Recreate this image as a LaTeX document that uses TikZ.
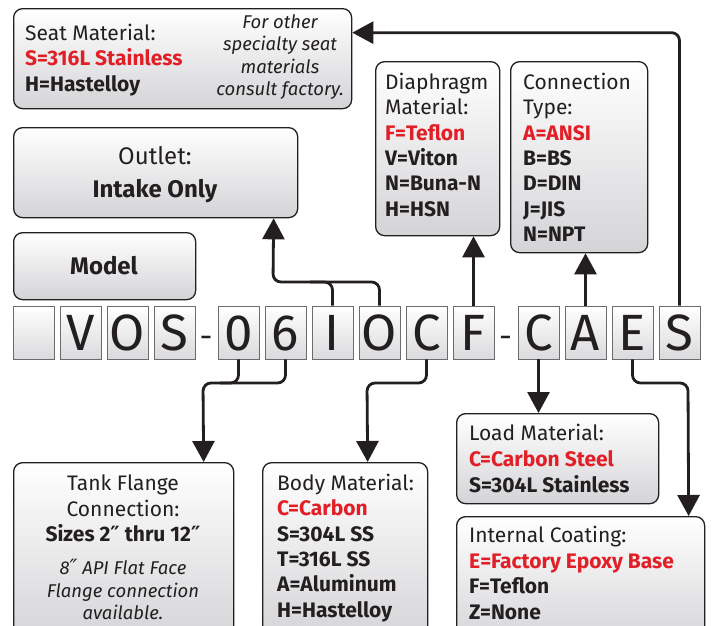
\documentclass[tikz,border=0pt]{standalone}
\usepackage{fontspec}
\setmainfont{Fira Sans}
\newfontfamily\primefont{DejaVu Sans}
\usetikzlibrary{arrows.meta}
\definecolor{codered}{RGB}{226,30,38}
\definecolor{boxgray}{RGB}{212,212,215}
\definecolor{ink}{RGB}{35,31,32}
\tikzset{
  infobox/.style={draw=ink,line width=1.3pt,rounded corners=9pt,top color=white,bottom color=boxgray,inner sep=0pt,anchor=north west},
  letterbox/.style={draw=gray!85!black,line width=0.9pt,top color=white,bottom color=boxgray!85,minimum width=41pt,minimum height=53pt,inner sep=0pt,text height=35pt,text depth=0pt,text=ink,font=\fontsize{51}{51}\selectfont},
  dashmark/.style={inner sep=0pt,text=ink,font=\fontsize{32}{32}\selectfont},
  conn/.style={draw=ink,line width=2.8pt,rounded corners=8pt,-{Triangle[width=22pt,length=21pt]}},
  feed/.style={draw=ink,line width=2.8pt,rounded corners=8pt},
  txt/.style={anchor=north west,inner sep=0pt,align=left,text=ink,font=\fontsize{21}{25.3}\selectfont},
  note/.style={inner sep=0pt,align=center,text=ink,font=\fontsize{18.5}{22.6}\selectfont\itshape},
}
\newcommand{\opt}[1]{{\color{codered}\bfseries #1}}
\newcommand{\inch}{{\primefont\fontsize{21}{21}\selectfont ″}}

\begin{document}
\begin{tikzpicture}[x=1pt,y=-1pt]
    \useasboundingbox (0,0) rectangle (712,625);
    \fill [white] (0,0) rectangle (712,625);
    \clip (0,0) rectangle (712,625);

    % boxes
    \node [infobox,minimum width=338,minimum height=100] (seat)   at (13,8)    {};
    \node [infobox,minimum width=284,minimum height=90]  (outlet) at (13,127)  {};
    \node [infobox,minimum width=182,minimum height=67]  (model)  at (13,232)  {};
    \node [infobox,minimum width=124,minimum height=174] (diaph)  at (375,61)  {};
    \node [infobox,minimum width=137,minimum height=191] (ctype)  at (510,61)  {};
    \node [infobox,minimum width=220,minimum height=180] (tank)   at (13,462)  {};
    \node [infobox,minimum width=165,minimum height=180] (body)   at (262,462) {};
    \node [infobox,minimum width=202,minimum height=90]  (load)   at (456,413) {};
    \node [infobox,minimum width=248,minimum height=130] (coat)   at (456,516) {};

    % box texts
    \node [txt] (seattxt) at (25,24) {Seat Material:\\\opt{S=316L Stainless}\\\textbf{H=Hastelloy}};
    \node [note] (seatnote) at (280,57) {For other\\specialty seat\\materials\\consult factory.};
    \node [txt,anchor=center,align=center,font=\fontsize{24}{33}\selectfont] (outlettxt) at (155,175) {Outlet:\\\textbf{Intake Only}};
    \node [txt,anchor=center,font=\fontsize{24}{24}\selectfont] (modeltxt) at (104,266) {\textbf{Model}};
    \node [txt] (diaphtxt) at (385,73) {Diaphragm\\Material:\\\opt{F=Teflon}\\\textbf{V=Viton}\\\textbf{N=Buna-N}\\\textbf{H=HSN}};
    \node [txt] (ctypetxt) at (523,73) {Connection\\Type:\\\opt{A=ANSI}\\\textbf{B=BS}\\\textbf{D=DIN}\\\textbf{J=JIS}\\\textbf{N=NPT}};
    \node [txt,anchor=north,align=center] (tanktxt) at (123,475) {Tank Flange\\Connection:\\\textbf{Sizes 2\inch{} thru 12\inch}};
    \node [note,anchor=north] (tanknote) at (123,559) {8\inch{} API Flat Face\\Flange connection\\available.};
    \node [txt] (bodytxt) at (277,474) {Body Material:\\\opt{C=Carbon}\\\textbf{S=304L SS}\\\textbf{T=316L SS}\\\textbf{A=Aluminum}\\\textbf{H=Hastelloy}};
    \node [txt,font=\fontsize{21}{26}\selectfont] (loadtxt) at (469,424) {Load Material:\\\opt{C=Carbon Steel}\\\textbf{S=304L Stainless}};
    \node [txt,font=\fontsize{21}{25.7}\selectfont] (coattxt) at (469,526) {Internal Coating:\\\opt{E=Factory Epoxy Base}\\\textbf{F=Teflon}\\\textbf{Z=None}};

    % model code letters
    \foreach \xx/\ch [count=\i] in {33.5/{},80.5/V,127.5/O,174.5/S,238.5/0,285.5/6,332.5/I,379.5/O,426.5/C,473.5/F,538.5/C,585.5/A,632.5/E,679.5/S}
        \node [letterbox] (k\i) at (\xx,332.5) {\ch};
    \node [dashmark] (dash1) at (206,342) {-};
    \node [dashmark] (dash2) at (505.5,342) {-};

    % connectors up
    \draw [feed] (k7.north) |- (310,282);
    \draw [conn] (k8.north) |- (273,282) -- ([xshift=118pt]outlet.south);
    \draw [conn] (k10.north) -- (k10.north |- diaph.south);
    \draw [conn] (k12.north) -- (k12.north |- ctype.south);
    \draw [conn] (k14.north) |- ([yshift=26pt]seat.east);

    % connectors down
    \draw [feed] (k5.south) |- (220,383);
    \draw [conn] (k6.south) |- (203,383) -- ([xshift=80pt]tank.north);
    \draw [conn] (k9.south) |- (367,383) -- ([xshift=22.5pt]body.north);
    \draw [conn] (k11.south) -- (k11.south |- load.north);
    \draw [conn] (k13.south) |- (688,383) -- ([xshift=108pt]coat.north);
\end{tikzpicture}
\end{document}
